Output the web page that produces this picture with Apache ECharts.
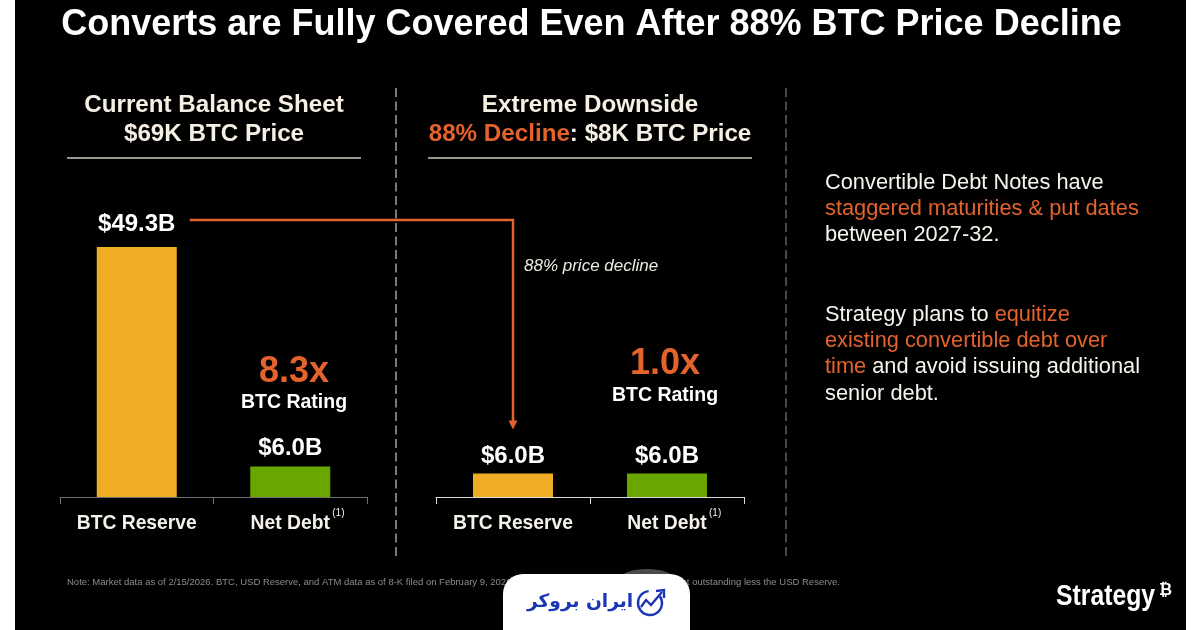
<!DOCTYPE html>
<html>
<head>
<meta charset="utf-8">
<style>
  html, body { margin: 0; padding: 0; background: #fff; }
  #chart { width: 1200px; height: 630px; }
</style>
<script src="https://cdn.jsdelivr.net/npm/echarts@6/dist/echarts.min.js"></script>
</head>
<body>
<div id="chart"></div>
<script>
const categories = ['BTC Reserve', 'Net Debt'];
const currentValues = [49.3, 6.0];
const downsideValues = [6.0, 6.0];
const barColors = ['#f0ac25', '#69a700'];
const currentAxisMax = 49.3;
const downsideAxisMax = 64;
const currentLabelGaps = [11, 6];
const downsideLabelGaps = [5, 5];

const FONT = '"Liberation Sans", Arial, sans-serif';
const ORANGE = '#e4622c';
const CREAM = '#f6f0e4';
const BODY_FONT = `21.8px ${FONT}`;

const chart = echarts.init(document.getElementById('chart'), null, { renderer: 'canvas' });

function barSeries(values, index, gaps) {
  return {
    type: 'bar',
    xAxisIndex: index,
    yAxisIndex: index,
    barWidth: 80,
    silent: true,
    animation: false,
    data: values.map((v, i) => ({
      value: v,
      itemStyle: { color: barColors[i] },
      label: { distance: gaps[i] }
    })),
    label: {
      show: true,
      position: 'top',
      formatter: p => '$' + p.value.toFixed(1) + 'B',
      color: '#ffffff',
      fontFamily: FONT,
      fontWeight: 'bold',
      fontSize: 24
    }
  };
}

function xAxis(gridIndex, lineColor) {
  return {
    type: 'category',
    gridIndex,
    data: categories,
    axisLine: { lineStyle: { color: lineColor, width: 1 } },
    axisTick: { show: true, length: 7, lineStyle: { color: lineColor } },
    axisLabel: {
      color: '#f4f1ea', fontFamily: FONT, fontWeight: 'bold', fontSize: 19.3, margin: 17,
      interval: 0
    }
  };
}

function yAxis(gridIndex, max) {
  return { type: 'value', gridIndex, min: 0, max, show: false, splitLine: { show: false } };
}

// Slide text set as plain graphic elements
function text(x, y, content, size, opts) {
  return {
    type: 'text', x, y, silent: true, z: 20,
    style: Object.assign({
      text: content, fill: '#ffffff', font: `${size}px ${FONT}`,
      textAlign: 'left', textVerticalAlign: 'middle'
    }, opts || {})
  };
}
function bold(x, y, content, size, fill) {
  return text(x, y, content, size, {
    font: `bold ${size}px ${FONT}`, fill: fill || '#ffffff', textAlign: 'center'
  });
}
function rule(x1, x2, y, stroke) {
  return { type: 'line', silent: true, shape: { x1, y1: y, x2, y2: y }, style: { stroke, lineWidth: 1.5 } };
}
function divider(x, stroke) {
  return {
    type: 'line', silent: true, shape: { x1: x, y1: 88, x2: x, y2: 556 },
    style: { stroke, lineWidth: 1, lineDash: [9, 4.5] }
  };
}
function mixedLine(x, y, parts) {
  const rich = {
    w: { fill: '#f7f4ee', font: BODY_FONT },
    o: { fill: ORANGE, font: BODY_FONT }
  };
  return {
    type: 'text', x, y, silent: true, z: 20,
    style: {
      text: parts.map(p => `{${p[0]}|${p[1]}}`).join(''),
      rich, textVerticalAlign: 'middle', textAlign: 'left'
    }
  };
}

const staticGraphics = [
  // Slide canvas with white margins on both sides
  { type: 'rect', silent: true, z: -10, shape: { x: 15, y: 0, width: 1171, height: 630 }, style: { fill: '#000000' } },

  bold(591.5, 25, 'Converts are Fully Covered Even After 88% BTC Price Decline', 36),

  bold(214, 105, 'Current Balance Sheet', 24.2, CREAM),
  bold(214, 134, '$69K BTC Price', 24.2, CREAM),
  rule(67, 361, 158, '#cfc9bd'),

  bold(590, 105, 'Extreme Downside', 24.2, CREAM),
  {
    type: 'text', x: 590, y: 134, silent: true, z: 20,
    style: {
      text: '{o|88% Decline}{c|: $8K BTC Price}',
      textAlign: 'center', textVerticalAlign: 'middle',
      rich: {
        o: { fill: ORANGE, font: `bold 24.2px ${FONT}` },
        c: { fill: CREAM, font: `bold 24.2px ${FONT}` }
      }
    }
  },
  rule(428, 752, 158, '#cfc9bd'),

  divider(396, '#f2f2f2'),
  divider(786, '#8f8f8f'),

  bold(294, 372, '8.3x', 36, ORANGE),
  bold(294, 403, 'BTC Rating', 19.5),
  bold(665, 364, '1.0x', 36, ORANGE),
  bold(665, 396, 'BTC Rating', 19.5),

  text(524, 266, '88% price decline', 17, { font: `italic 17px ${FONT}`, fill: '#ece9e2' }),

  mixedLine(825, 183, [['w', 'Convertible Debt Notes have']]),
  mixedLine(825, 209, [['o', 'staggered maturities & put dates']]),
  mixedLine(825, 235, [['w', 'between 2027-32.']]),
  mixedLine(825, 315, [['w', 'Strategy plans to '], ['o', 'equitize']]),
  mixedLine(825, 341, [['o', 'existing convertible debt over']]),
  mixedLine(825, 367, [['o', 'time'], ['w', ' and avoid issuing additional']]),
  mixedLine(825, 394, [['w', 'senior debt.']]),

  text(67, 582, 'Note: Market data as of 2/15/2026. BTC, USD Reserve, and ATM data as of 8-K filed on February 9, 2026', 9.5, { fill: '#8c8c8c' }),
  text(840, 582, 'bt outstanding less the USD Reserve.', 9.5, { fill: '#8c8c8c', textAlign: 'right' }),

  // Broker badge over the footnote
  { type: 'ellipse', silent: true, z: 24, shape: { cx: 647, cy: 578, rx: 26, ry: 9 }, style: { fill: '#4a4a4a' } },
  { type: 'rect', silent: true, z: 25, shape: { x: 503, y: 574, width: 187, height: 56, r: [20, 20, 0, 0] }, style: { fill: '#ffffff' } },
  {
    type: 'text', x: 580, y: 602, silent: true, z: 26,
    style: {
      text: 'ایران بروکر', fill: '#1b36b4', font: 'bold 18.6px "DejaVu Sans", sans-serif',
      textAlign: 'center', textVerticalAlign: 'middle'
    }
  },
  {
    type: 'arc', silent: true, z: 26,
    shape: { cx: 650, cy: 603, r: 12, startAngle: -0.6, endAngle: 4.6 },
    style: { stroke: '#1b36b4', fill: null, lineWidth: 2.4 }
  },
  {
    type: 'polyline', silent: true, z: 26,
    shape: { points: [[641, 607], [646, 600], [651, 605], [662, 592]] },
    style: { stroke: '#1b36b4', fill: null, lineWidth: 2.4 }
  },
  {
    type: 'polyline', silent: true, z: 26,
    shape: { points: [[656, 591], [664, 590], [664, 598]] },
    style: { stroke: '#1b36b4', fill: null, lineWidth: 2.4 }
  },

  // Company wordmark, condensed to its set width
  Object.assign(text(1056, 597, 'Strategy', 30, { font: `bold 30px ${FONT}` }), { scaleX: 0.825 }),
  text(1159, 591, '₿', 16, { font: 'bold 16px "DejaVu Sans", sans-serif' })
];

chart.setOption({
  backgroundColor: '#ffffff',
  animation: false,
  grid: [
    { left: 60, width: 307, top: 247, height: 250 },
    { left: 436, width: 308, top: 247, height: 250 }
  ],
  xAxis: [xAxis(0, '#6f6f6f'), xAxis(1, '#d8d8d8')],
  yAxis: [yAxis(0, currentAxisMax), yAxis(1, downsideAxisMax)],
  series: [barSeries(currentValues, 0, currentLabelGaps), barSeries(downsideValues, 1, downsideLabelGaps)],
  graphic: staticGraphics
});

// The connector runs from the reserve label down to the stressed reserve bar
const tipX = chart.convertToPixel({ xAxisIndex: 1 }, categories[0]);
const tipY = chart.convertToPixel({ yAxisIndex: 1 }, downsideValues[0]) - 44;
const leadY = chart.convertToPixel({ yAxisIndex: 0 }, currentValues[0]) - 27;
const leadX = chart.convertToPixel({ xAxisIndex: 0 }, categories[0]) + 53;

// Footnote markers sit just past each axis label
const noteMarks = [0, 1].map(i => {
  const cx = chart.convertToPixel({ xAxisIndex: i }, categories[1]);
  return text(cx + 42, 513, '(1)', 10, { fill: '#f4f1ea', textAlign: 'left' });
});

chart.setOption({
  graphic: staticGraphics.concat([
    {
      type: 'polyline', silent: true, z: 15,
      shape: { points: [[leadX, leadY], [tipX, leadY], [tipX, tipY - 8]] },
      style: { stroke: ORANGE, fill: null, lineWidth: 2.5 }
    },
    {
      type: 'polygon', silent: true, z: 15,
      shape: { points: [[tipX - 4.5, tipY - 9], [tipX + 4.5, tipY - 9], [tipX, tipY]] },
      style: { fill: ORANGE }
    }
  ], noteMarks)
});
</script>
</body>
</html>
